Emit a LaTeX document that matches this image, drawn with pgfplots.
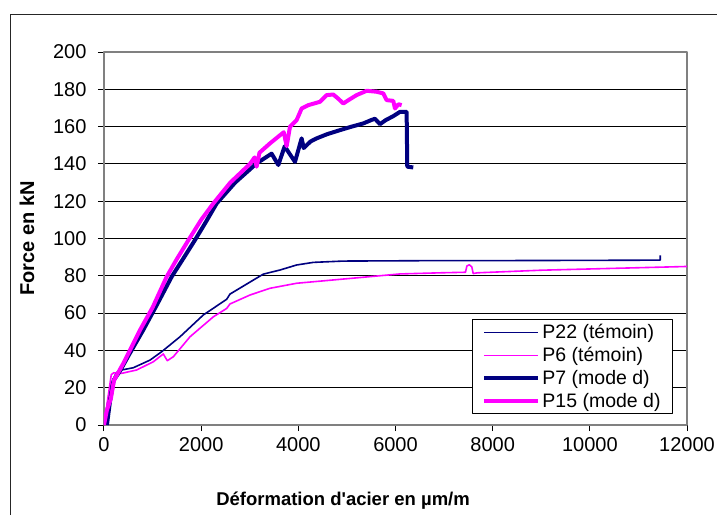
\documentclass[border=0pt]{standalone}
\usepackage{fontspec}
\setmainfont{Liberation Sans}
\usepackage{pgfplots}
\pgfplotsset{compat=1.18}
\definecolor{navyc}{HTML}{000080}
\definecolor{magc}{HTML}{FF00FF}
\definecolor{axgray}{HTML}{808080}
\begin{document}
\begin{tikzpicture}[x=1pt,y=1pt]
\useasboundingbox (0,0) rectangle (717,515);
\fill[white] (0,0) rectangle (717,515);
\draw[line width=1pt, black!85] (10,0) -- (10,500) -- (717,500);
\begin{axis}[
  at={(104pt,90pt)}, anchor=south west,
  scale only axis, width=583pt, height=373pt,
  xmin=0, xmax=12000, ymin=0, ymax=200,
  xtick={0,2000,...,12000}, ytick={0,20,...,200},
  scaled x ticks=false, scaled y ticks=false,
  /pgf/number format/1000 sep={},
  /pgf/number format/assume math mode=true,
  tick label style={font=\fontsize{20}{23}\selectfont, black},
  xtick pos=left, ytick pos=left,
  tick align=outside, major tick length=6pt,
  tick style={black, line width=1pt},
  ymajorgrids, grid style={black, line width=1pt},
  axis line style={draw=axgray, line width=1.6pt},
  yticklabel style={xshift=-8pt},
  xticklabel style={yshift=-3pt},
  xlabel={\bfseries Déformation d\textquotesingle acier en µm/m},
  ylabel={\bfseries Force en kN},
  xlabel style={font=\fontsize{18.5}{22}\selectfont, at={(axis description cs:0.41,-0.203)}, anchor=center},
  ylabel style={font=\fontsize{20}{23}\selectfont, at={(axis description cs:-0.132,0.5)}, anchor=center},
  legend style={at={(0.976,0.0295)}, anchor=south east, draw=black, line width=0.8pt,
    font=\fontsize{19.5}{22.5}\selectfont, fill=white, inner xsep=10pt, inner ysep=3pt,
    row sep=3pt, cells={anchor=west}},
  legend image code/.code={\draw[#1] (0pt,0pt) -- (54pt,0pt);},
  line join=round,
]
% P22 (temoin)
\addplot[navyc, line width=1.6pt] coordinates {
(0,0) (60,10) (150,22) (250,28) (364,29.5) (603,30.7) (947,34.8) (1187,39.3)
(1564,47.3) (2044,59) (2525,67.4) (2593,70.2) (3073,77.7) (3279,80.9) (3622,83.1)
(3965,85.8) (4308,87.2) (4925,87.9) (6503,88.1) (9000,88.2) (11450,88.4) (11450,91)
};
\addlegendentry{P22 (témoin)}
% P6 (temoin)
\addplot[magc, line width=1.6pt] coordinates {
(0,0) (100,18) (150,27) (200,28) (364,27.7) (672,29.5) (1015,33.9) (1220,38.1)
(1303,34.5) (1427,36.6) (1770,47.3) (2250,58) (2525,62.5) (2593,64.9) (3005,69.7)
(3416,73.3) (3965,76) (4857,78.1) (6092,81) (6915,81.6) (7440,81.9) (7470,85.3)
(7520,85.9) (7570,84.8) (7600,81.2) (7680,81.6) (9000,83) (12000,85)
};
\addlegendentry{P6 (témoin)}
% P7 (mode d)
\addplot[navyc, line width=4pt] coordinates {
(60,0) (130,14) (200,24) (330,29) (500,37) (809,51) (1100,65) (1393,79.5)
(1650,90) (1873,99.2) (2100,109) (2319,118.8) (2700,130) (3142,140.3) (3450,145.5)
(3588,139.4) (3720,149.5) (3780,147) (3931,141.1) (4068,153.7) (4110,148.5)
(4250,152) (4377,153.7) (4600,156) (4857,158.1) (5100,160) (5337,161.7) (5500,163.5)
(5577,164.2) (5680,161.3) (5800,163.5) (5954,165.6) (6092,167.9) (6229,167.9)
(6242,138.5) (6366,138.1)
};
\addlegendentry{P7 (mode d)}
% P15 (mode d)
\addplot[magc, line width=4pt] coordinates {
(0,0) (60,8) (140,14) (206,24) (397,33) (741,50.9) (1000,63) (1290,79.5) (1500,89)
(1740,99.2) (2000,110) (2250,118.8) (2600,130) (3005,140) (3100,143.5) (3142,138.5)
(3200,146) (3416,151) (3700,157) (3760,149.5) (3828,159.9) (3965,163.5) (4068,169.7)
(4205,171.5) (4445,173.3) (4583,176.9) (4720,177.2) (4820,175) (4926,172.4)
(5050,174.5) (5200,176.9) (5406,179.2) (5612,178.7) (5749,177.8) (5818,174.2)
(5954,173.8) (5989,169.7) (6060,172) (6126,171.5)
};
\addlegendentry{P15 (mode d)}
\end{axis}
\end{tikzpicture}
\end{document}
